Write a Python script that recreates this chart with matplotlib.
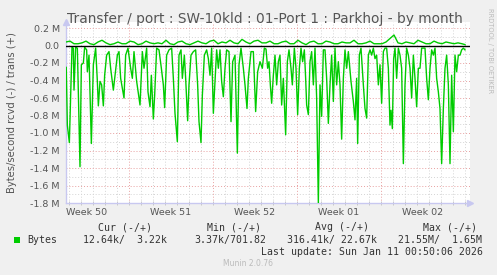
import matplotlib
matplotlib.use("Agg")
import matplotlib.pyplot as plt
from matplotlib.patches import Rectangle
from matplotlib.ticker import FixedLocator, FuncFormatter

W, H = 497, 275

# ---- data (hours since Dec 8 18:00, values in MB/s) ----
rcvd_hours = [
    0.5, 2.7, 6.7, 12, 14.7, 16, 19.3, 22.7, 28, 30.7,
    34.7, 37.3, 41.3, 42.7, 46, 50.7, 54.7, 59.3, 62.7, 64.7,
    68, 71.3, 74.7, 77.3, 81.3, 86, 89.3, 94.7, 99.3, 102.7,
    106, 109.3, 116, 119.3, 124, 129.3, 132.7, 136, 141.3, 148,
    152.7, 156, 161.3, 164, 168, 170.7, 174.7, 177.3, 181.3, 186,
    190.7, 194.7, 197.3,
    201.3, 206, 211.3, 214.7, 218, 222.7, 226, 230, 232.7, 236.7,
    239.3, 243.3, 246, 250, 254.7, 259.3, 263.3, 266, 270, 272.7,
    276.7, 281.3, 284.7, 288, 291.3, 294.7, 298, 301.3, 304.7, 308,
    311.3, 314.7, 318, 321.3, 326, 330, 333.3, 338, 342.7, 346,
    350, 354.7, 358, 362, 364.7, 370, 374.7, 379.3, 383.3, 388,
    392.7, 396.7, 400,
    403.3, 406, 408.7, 411.3, 414.7, 418, 421.3, 424.7, 428, 431.3,
    434.7, 439.3, 442.7, 446, 450, 452.7, 456.7, 460, 463.3, 466.7,
    470, 473.3, 476.7, 479.3, 481.3, 484.7, 488, 491.3, 494.7, 498,
    501.3, 504.7, 508, 511.3, 514.7, 518, 521.3, 524.7, 528, 531.3,
    534.7, 538, 541.3, 544.7, 548, 551.3, 554.7, 558, 561.3, 564.7,
    570, 574.7, 578, 581.3, 583.3, 586.7, 590, 594.7, 598,
    601.3, 604.7, 608, 611.3, 614.7, 618, 621.3, 624.7, 628, 631.3,
    634.7, 638, 641.3, 644.7, 648, 650, 652.7, 655.3, 658, 661.3,
    664.7, 668, 671.3, 674.7, 678, 681.3, 684.7, 688, 691.3, 694.7,
    698, 701.3, 704.7, 708, 711.3, 714.7, 718, 721.3, 724.7, 728,
    731.3, 734.7, 738, 741.3, 744.7, 748, 751.3, 754.7, 758, 761.3,
    764.7, 768, 771.3, 774.7, 778, 781.3, 784.7, 788, 791.3, 794.7,
    798,
]
rcvd_mbytes = [
    -0.25, -0.91, -1.11, -0.02, -0.03, -0.51, -0.02, -0.03, -1.385, -0.22,
    -0.20, -0.02, -0.05, -0.30, -0.11, -1.12, -0.22, -0.03, -0.41, -0.69,
    -0.41, -0.45, -0.69, -0.34, -0.11, -0.07, -0.26, -0.51, -0.28, -0.11,
    -0.07, -0.375, -0.60, -0.11, -0.03, -0.26, -0.375, -0.07, -0.41, -0.68,
    -0.07, -0.26, -0.03, -0.53, -0.70, -0.34, -0.84, -0.57, -0.03, -0.05,
    -0.26, -0.45, -0.71,
    -0.11, -0.05, -0.03, -0.375, -0.775, -1.10, -0.11, -0.05, -0.375, -0.11,
    -0.375, -0.86, -0.45, -0.11, -0.07, -0.05, -0.45, -0.87, -1.11, -0.57,
    -0.11, -0.05, -0.15, -0.34, -0.03, -0.775, -0.41, -0.05, -0.26, -0.05,
    -0.41, -0.585, -0.26, -0.05, -0.07, -0.87, -0.185, -0.11, -1.23, -0.22,
    -0.03, -0.26, -0.45, -0.72, -0.375, -0.07, -0.07, -0.755, -0.30, -0.185,
    -0.26, -0.03, -0.04,
    -0.26, -0.185, -0.45, -0.66, -0.34, -0.11, -0.45, -0.185, -0.11, -0.68,
    -0.375, -1.02, -0.185, -0.05, -0.26, -0.45, -0.03, -0.26, -0.79, -0.26,
    -0.03, -0.185, -0.05, -0.375, -0.68, -0.79, -0.185, -0.07, -0.45, -0.03,
    -0.60, -1.80, -0.45, -0.81, -0.05, -0.05, -0.375, -0.89, -0.45, -0.11,
    -0.64, -0.03, -0.45, -0.185, -0.45, -1.07, -0.375, -0.05, -0.26, -0.07,
    -0.41, -0.64, -0.85, -0.375, -1.12, -0.11, -0.03, -0.45, -0.72,
    -0.83, -0.11, -0.05, -0.11, -0.03, -0.15, -0.11, -0.45, -0.22, -0.66,
    -0.07, -0.03, -0.03, -0.26, -0.91, -0.74, -0.95, -0.15, -0.03, -0.375,
    -0.03, -0.11, -0.26, -1.35, -0.45, -0.03, -0.11, -0.26, -0.60, -0.11,
    -0.375, -0.70, -0.26, -0.26, -0.03, -0.03, -0.03, -0.375, -0.62, -0.26,
    -0.05, -0.11, -0.03, -0.375, -0.53, -0.72, -1.35, -0.72, -0.26, -0.11,
    -0.45, -1.35, -0.34, -0.985, -0.11, -0.30, -0.11, -0.11, -0.05, -0.03,
    -0.05,
]
trans_hours = list(range(0, 800, 8)) + [798]
trans_mbytes = [
    0.04, 0.05, 0.02, 0.02, 0.03, 0.05, 0.02, 0.01, 0.04, 0.06,
    0.03, 0.01, 0.02, 0.04, 0.02, 0.02, 0.05, 0.04, 0.01, 0.02,
    0.05, 0.03, 0.02, 0.03, 0.02, 0.06, 0.02, 0.01, 0.04, 0.05,
    0.02, 0.01, 0.03, 0.05, 0.03, 0.02, 0.05, 0.06, 0.02, 0.04,
    0.03, 0.06, 0.03, 0.02, 0.07, 0.04, 0.02, 0.05, 0.06, 0.03,
    0.03, 0.05, 0.02, 0.02, 0.04, 0.05, 0.02, 0.02, 0.06, 0.03,
    0.01, 0.04, 0.05, 0.02, 0.02, 0.05, 0.04, 0.02, 0.02, 0.04,
    0.03, 0.03, 0.06, 0.02, 0.02, 0.03, 0.05, 0.02, 0.02, 0.02,
    0.04, 0.08, 0.12, 0.03, 0.02, 0.04, 0.03, 0.02, 0.06, 0.04,
    0.02, 0.02, 0.05, 0.03, 0.02, 0.04, 0.03, 0.02, 0.03, 0.02,
    0.01,
]

week_labels = ["Week 50", "Week 51", "Week 52", "Week 01", "Week 02"]
week_label_hours = [42, 210, 378, 546, 714]
week_start_hours = [126, 294, 462, 630]
day_hours = list(range(6, 800, 24))
y_major = [0.2, 0.0, -0.2, -0.4, -0.6, -0.8, -1.0, -1.2, -1.4, -1.6, -1.8]
y_minor = [round(-1.8 + 0.1 * i, 1) for i in range(21)]

title = "Transfer / port : SW-10kld : 01-Port 1 : Parkhoj - by month"
ylabel = "Bytes/second rcvd (-) / trans (+)"
legend_header = ["Cur (-/+)", "Min (-/+)", "Avg (-/+)", "Max (-/+)"]
legend_series = "Bytes"
legend_values = ["12.64k/  3.22k", "3.37k/701.82", "316.41k/ 22.67k", "21.55M/  1.65M"]
last_update = "Last update: Sun Jan 11 00:50:06 2026"
version = "Munin 2.0.76"

# ---- figure ----
fig = plt.figure(figsize=(W / 100, H / 100), dpi=100, facecolor="#F0F0F0")

def fx(x):
    return x / W

def fy(y):
    return 1 - y / H

L, R, T, B = 66, 470, 22, 203
ax = fig.add_axes([fx(L), fy(B), (R - L) / W, (B - T) / H])
ax.set_facecolor("white")
ax.set_xlim(0, 2 * (R - L))
ax.set_ylim(-1.8, (45.5 - T) / 87.5)

minor_c = "#D4D4D4"
major_c = "#E8A0A0"
dot = (0, (1, 2))
for h in day_hours:
    if h not in week_start_hours:
        ax.axvline(h, color=minor_c, lw=0.7, ls=dot, zorder=1)
for v in y_minor:
    if v not in y_major:
        ax.axhline(v, color=minor_c, lw=0.7, ls=dot, zorder=1)
for h in week_start_hours:
    ax.axvline(h, color=major_c, lw=0.7, ls=dot, zorder=1.5)
for v in y_major:
    if v != -1.8:
        ax.axhline(v, color=major_c, lw=0.7, ls=dot, zorder=1.5)

ax.plot(rcvd_hours, rcvd_mbytes, color="#00CC00", lw=1.0, zorder=3)
ax.plot(trans_hours, trans_mbytes, color="#00CC00", lw=1.0, zorder=3)
ax.axhline(0, color="black", lw=1.0, zorder=4)

for s in ["top", "right"]:
    ax.spines[s].set_visible(False)
axis_c = "#C8C8F0"
for s in ["left", "bottom"]:
    ax.spines[s].set_color(axis_c)
    ax.spines[s].set_linewidth(1.0)
ax.plot([0], [1], marker="^", ms=4, color=axis_c, transform=ax.transAxes, clip_on=False, zorder=5)
ax.plot([1], [0], marker=">", ms=4, color=axis_c, transform=ax.transAxes, clip_on=False, zorder=5)

ax.yaxis.set_major_locator(FixedLocator(y_major))
ax.yaxis.set_major_formatter(FuncFormatter(lambda v, p: "0.0" if abs(v) < 1e-9 else f"{v:.1f} M"))
ax.tick_params(axis="y", length=0, pad=4.5, labelsize=6.8, labelcolor="#555555")
ax.xaxis.set_major_locator(FixedLocator(week_label_hours))
ax.set_xticklabels(week_labels)
ax.xaxis.set_minor_locator(FixedLocator(day_hours))
ax.tick_params(axis="x", which="major", length=0, pad=3.5, labelsize=6.8, labelcolor="#555555")
ax.tick_params(axis="x", which="minor", length=3, direction="inout", color="#C0C0C0", width=0.6)

fig.text(fx(265), fy(23.5), title, ha="center", va="baseline", fontsize=9.9, color="#555555")
fig.text(fx(12), fy((T + B) / 2), ylabel, rotation=90, ha="center", va="center", fontsize=7.2, color="#555555")
fig.text(fx(490), fy(8), "RRDTOOL / TOBI OETIKER", rotation=270, ha="center", va="top", fontsize=4.8, color="#BBBBBB")

mono = dict(family="DejaVu Sans Mono", fontsize=7.1, color="#333333", va="center")
for txt, x in zip(legend_header, [98, 207, 315, 423]):
    fig.text(fx(x), fy(227), txt, ha="left", **mono)
fig.patches.append(Rectangle((fx(14), fy(243)), 6 / W, 6 / H, transform=fig.transFigure,
                             facecolor="#00CC00", edgecolor="none"))
fig.text(fx(27), fy(240), legend_series, ha="left", **mono)
for txt, x in zip(legend_values, [83, 194, 287, 398]):
    fig.text(fx(x), fy(240), txt, ha="left", **mono)
fig.text(fx(483), fy(252), last_update, ha="right", **mono)
fig.text(fx(248), fy(264), version, ha="center", va="center", fontsize=5.5, color="#BBBBBB")

fig.savefig("out.png", dpi=100, facecolor=fig.get_facecolor())
